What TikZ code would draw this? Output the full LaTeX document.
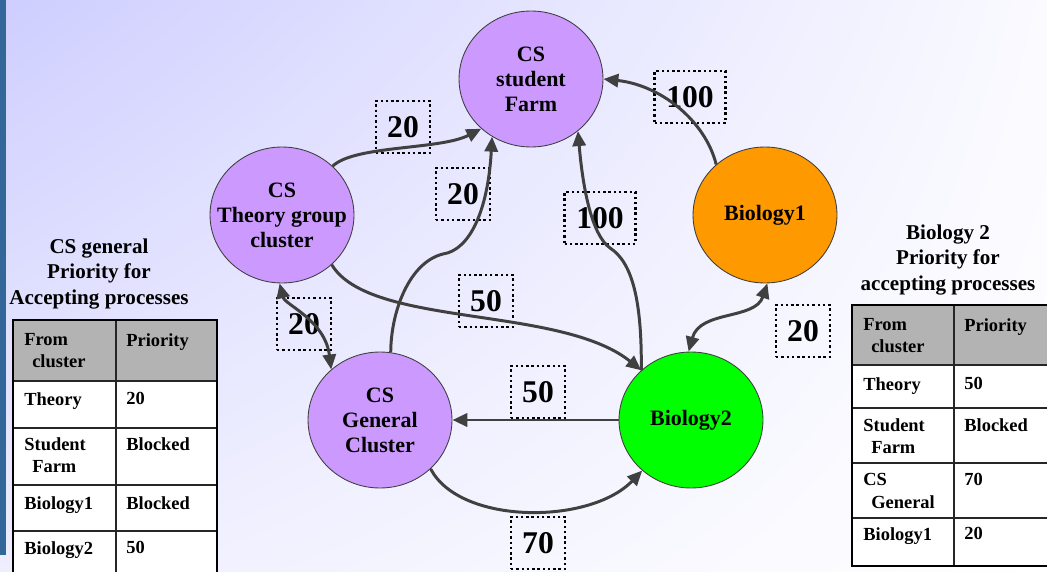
\documentclass[tikz,border=0pt]{standalone}
\usepackage{fontspec}
\setmainfont{Liberation Serif}
\usetikzlibrary{shapes.geometric}
\usetikzlibrary{shadings}
\usetikzlibrary{arrows.meta}

\definecolor{clusterpurple}{RGB}{204,153,255}
\definecolor{bioorange}{RGB}{255,153,0}
\definecolor{biogreen}{RGB}{0,255,0}
\definecolor{linkgray}{RGB}{64,64,64}
\definecolor{headgray}{RGB}{179,179,179}
\definecolor{barblue}{RGB}{51,102,153}
\definecolor{bgtl}{RGB}{206,206,255}
\definecolor{bgtr}{RGB}{250,250,255}
\definecolor{bgbl}{RGB}{238,238,255}

\begin{document}
\begin{tikzpicture}[x=0.02cm, y=-0.02cm, >={Triangle[length=8.5pt,width=7.5pt]},
	cluster/.style={ellipse, draw=linkgray, line width=0.5pt, minimum width=2.88cm, minimum height=2.72cm, align=center, inner xsep=-12pt, inner ysep=0pt, font=\fontsize{12.5}{14.2}\selectfont\bfseries},
	weight/.style={draw=black, line width=1.2pt, dash pattern=on 1.4pt off 1.6pt, minimum width=1.08cm, minimum height=1.04cm, inner sep=0pt, font=\fontsize{18}{20}\selectfont\bfseries},
	link/.style={draw=linkgray, line width=1.7pt},
	cell/.style={anchor=north west, align=left, inner sep=0pt, font=\fontsize{10.5}{12.8}\selectfont\bfseries},
	caption/.style={align=center, font=\fontsize{12}{14.6}\selectfont\bfseries},
	frame/.style={draw=black, line width=1.6pt},
	gridline/.style={draw=black!85, line width=0.8pt}]
	\useasboundingbox (0,0) rectangle (1047,571);

	% background
	\shade[upper left=bgtl, upper right=bgtr, lower left=bgbl, lower right=white] (0,0) rectangle (1047,571);
	\fill[barblue] (0,0) rectangle (6,555);

	% nodes
	\node[cluster, fill=clusterpurple] (farm) at (531,79) {CS\\student\\Farm};
	\node[cluster, fill=clusterpurple] (theory) at (282,215) {CS\\Theory group\\cluster};
	\node[cluster, fill=bioorange] (bio1) at (765,215) {Biology1};
	\node[cluster, fill=clusterpurple] (general) at (380,420) {CS\\General\\Cluster};
	\node[cluster, fill=biogreen] (bio2) at (691,420) {Biology2};

	% weights
	\node[weight] (w-tf) at (403,127) {20};
	\node[weight, minimum width=1.42cm] (w-bf) at (690,97) {100};
	\node[weight] (w-gf) at (463,194) {20};
	\node[weight, minimum width=1.42cm] (w-b2f) at (600,218) {100};
	\node[weight] (w-tb) at (486,301) {50};
	\node[weight] (w-tg) at (304,324) {20};
	\node[weight] (w-bb) at (803,331) {20};
	\node[weight] (w-bg) at (538,392) {50};
	\node[weight] (w-gb) at (538,543) {70};

	% edges
	\draw[link, ->] (theory.44) .. controls (355,145) and (440,150) .. (farm.225);
	\draw[link, ->] (general.81) .. controls (391,310) and (410,262) .. (443,254) .. controls (470,250) and (488,210) .. (farm.236);
	\draw[link, ->] (bio2.135) .. controls (642,300) and (632,262) .. (610,248) .. controls (592,235) and (583,190) .. (farm.312);
	\draw[link, ->] (theory.-45) .. controls (370,328) and (560,305) .. (bio2.135);
	\draw[link, ->] (bio1.134) .. controls (705,120) and (660,85) .. (farm.0);
	\draw[link, <->] (theory.268) .. controls (285,305) and (325,320) .. (general.134);
	\draw[link, <->] (bio1.272) .. controls (755,320) and (700,310) .. (bio2.92);
	\draw[link, ->] (bio2) -- (general);
	\draw[link, ->] (general.-44) .. controls (460,525) and (590,525) .. (bio2.226);

	% left table
	\node[caption] (ltitle) at (99,274) {CS general\\Priority for\\Accepting processes};
	\fill[white] (13,320) rectangle (217,580);
	\fill[headgray] (13,320) rectangle (217,381);
	\draw[gridline] (116,320) -- (116,580);
	\foreach \y in {381,428,485,531}
		\draw[gridline] (13,\y) -- (217,\y);
	\draw[frame] (13,320) rectangle (217,580);
	\node[cell] (l-from) at (24,333) {From\\\hspace*{4.5pt}cluster};
	\node[cell] (l-prio) at (126,333) {Priority};
	\node[cell] (l-th) at (24,392) {Theory};
	\node[cell] (l-thv) at (126,392) {20};
	\node[cell] (l-sf) at (24,437) {Student\\\hspace*{4.5pt}Farm};
	\node[cell] (l-sfv) at (126,437) {Blocked};
	\node[cell] (l-b1) at (24,496) {Biology1};
	\node[cell] (l-b1v) at (126,496) {Blocked};
	\node[cell] (l-b2) at (24,541) {Biology2};
	\node[cell] (l-b2v) at (126,541) {50};

	% right table
	\node[caption] (rtitle) at (948,260) {Biology 2\\Priority for\\accepting processes};
	\fill[white] (852,305) rectangle (1049,566);
	\fill[headgray] (852,305) rectangle (1049,365);
	\draw[gridline] (954,305) -- (954,566);
	\foreach \y in {365,408,463,518}
		\draw[gridline] (852,\y) -- (1049,\y);
	\draw[frame] (852,305) rectangle (1049,566);
	\node[cell] (r-from) at (863,318) {From\\\hspace*{4.5pt}cluster};
	\node[cell] (r-prio) at (964,318) {Priority};
	\node[cell] (r-th) at (863,377) {Theory};
	\node[cell] (r-thv) at (964,377) {50};
	\node[cell] (r-sf) at (863,418) {Student\\\hspace*{4.5pt}Farm};
	\node[cell] (r-sfv) at (964,418) {Blocked};
	\node[cell] (r-cs) at (863,473) {CS\\\hspace*{4.5pt}General};
	\node[cell] (r-csv) at (964,473) {70};
	\node[cell] (r-b1) at (863,527) {Biology1};
	\node[cell] (r-b1v) at (964,527) {20};
\end{tikzpicture}
\end{document}
